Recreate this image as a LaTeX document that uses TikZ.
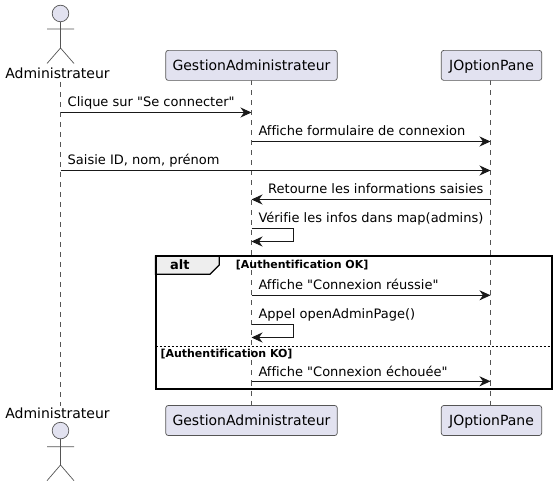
\documentclass[tikz,border=0pt]{standalone}
\usepackage{fontspec}
\setmainfont{DejaVu Sans}[Ligatures={TeXOff,CommonOff}]
\usetikzlibrary{arrows.meta}
\definecolor{partfill}{HTML}{E2E2F0}
\definecolor{partline}{HTML}{555555}
\definecolor{tabfill}{HTML}{EEEEEE}
\tikzset{
  part/.style={draw=partline,fill=partfill,line width=0.7pt,rounded corners=2.5pt,minimum height=30pt,inner sep=0pt,font=\fontsize{14}{16}\selectfont,text=black,text height=10.5pt,text depth=0pt},
  actorlabel/.style={font=\fontsize{14}{16}\selectfont,inner sep=0pt,text=black},
  lifeline/.style={draw=partline,line width=0.6pt,dash pattern=on 5pt off 5pt},
  stick/.style={draw=partline,line width=0.7pt},
  msg/.style={draw=black!90,line width=1pt,-{Stealth[length=11pt,width=10pt,inset=3.5pt]}},
  msglabel/.style={anchor=base west,inner sep=0pt,font=\fontsize{13}{15}\selectfont,text=black},
  guardlabel/.style={anchor=base west,inner sep=0pt,font=\fontsize{11}{13}\bfseries\selectfont,text=black},
  framebox/.style={draw=black,line width=2pt},
}
\begin{document}
\begin{tikzpicture}[x=1pt,y=-1pt]
\useasboundingbox (0,0) rectangle (557,486);
\fill[white] (0,0) rectangle (557,486);
% lifeline anchors
\coordinate (aTop) at (60.5,82);
\coordinate (aBot) at (60.5,406);
\coordinate (gTop) at (251.5,80.5);
\coordinate (gBot) at (251.5,405.5);
\coordinate (jTop) at (490.5,80.5);
\coordinate (jBot) at (490.5,405.5);
\draw[lifeline] (aTop) -- (aBot);
\draw[lifeline] (gTop) -- (gBot);
\draw[lifeline] (jTop) -- (jBot);
% participants
\node[part,minimum width=171.5pt] (g1) at (251.5,65.4) {GestionAdministrateur};
\node[part,minimum width=100.4pt] (j1) at (491.5,65.4) {JOptionPane};
\node[part,minimum width=171.5pt] (g2) at (251.5,420.5) {GestionAdministrateur};
\node[part,minimum width=100.4pt] (j2) at (491.5,420.5) {JOptionPane};
% actors
\node[actorlabel] (a1) at (57.5,73) {Administrateur};
\node[actorlabel] (a2) at (57.5,413) {Administrateur};
\draw[stick,fill=partfill] (60.5,13.5) circle (8.3);
\draw[stick] (60.5,21.8) -- (60.5,48) (47,29) -- (74,29) (47,63.5) -- (60.5,48) -- (74,63.5);
\draw[stick,fill=partfill] (60.5,430.6) circle (8.3);
\draw[stick] (60.5,438.9) -- (60.5,465) (47,446.7) -- (74,446.7) (47,480.7) -- (60.5,465) -- (74,480.7);
% frame
\coordinate (fTL) at (155.5,256);
\coordinate (fBR) at (551.5,389.3);
\draw[framebox,fill=tabfill,line width=1.2pt] (155.5,256) -- (219.3,256) -- (219.3,265) -- (210,274.3) -- (155.5,274.3) -- cycle;
\draw[framebox] (fTL) rectangle (fBR);
\node[anchor=base west,inner sep=0pt,font=\fontsize{13}{15}\bfseries\selectfont] (altlabel) at (170,270) {alt};
\node[guardlabel] (guardok) at (235.7,269) {[Authentification OK]};
\node[guardlabel] (guardko) at (160.3,357.3) {[Authentification KO]};
\coordinate (sepL) at (155.5,346.7);
\coordinate (sepR) at (551.5,346.7);
\draw[draw=black,line width=0.8pt,dash pattern=on 2pt off 2pt] (sepL) -- (sepR);
% messages
\coordinate (m1) at (0,112.5);
\coordinate (m2) at (0,141.5);
\coordinate (m3) at (0,170.5);
\coordinate (m4) at (0,199.5);
\coordinate (m5a) at (0,228.5);
\coordinate (m5b) at (0,241.5);
\coordinate (m6) at (0,295.3);
\coordinate (m7a) at (0,324.5);
\coordinate (m7b) at (0,337.5);
\coordinate (m8) at (0,381.3);
\coordinate (selfx) at (293.5,0);
\draw[msg] (aTop|-m1) -- (gTop|-m1);
\draw[msg] (gTop|-m2) -- (jTop|-m2);
\draw[msg] (aTop|-m3) -- (jTop|-m3);
\draw[msg] (jTop|-m4) -- (gTop|-m4);
\draw[msg] (gTop|-m5a) -- (selfx|-m5a) -- (selfx|-m5b) -- (gTop|-m5b);
\draw[msg] (gTop|-m6) -- (jTop|-m6);
\draw[msg] (gTop|-m7a) -- (selfx|-m7a) -- (selfx|-m7b) -- (gTop|-m7b);
\draw[msg] (gTop|-m8) -- (jTop|-m8);
\node[msglabel] (t1) at (67.5,107) {Clique sur "Se connecter"};
\node[msglabel] (t2) at (258.3,136) {Affiche formulaire de connexion};
\node[msglabel] (t3) at (67.5,165) {Saisie ID, nom, prénom};
\node[msglabel] (t4) at (268,194) {Retourne les informations saisies};
\node[msglabel] (t5) at (258.3,223) {Vérifie les infos dans map(admins)};
\node[msglabel] (t6) at (258.3,290) {Affiche "Connexion réussie"};
\node[msglabel] (t7) at (258.3,319) {Appel openAdminPage()};
\node[msglabel] (t8) at (258.3,376) {Affiche "Connexion échouée"};
\end{tikzpicture}
\end{document}
